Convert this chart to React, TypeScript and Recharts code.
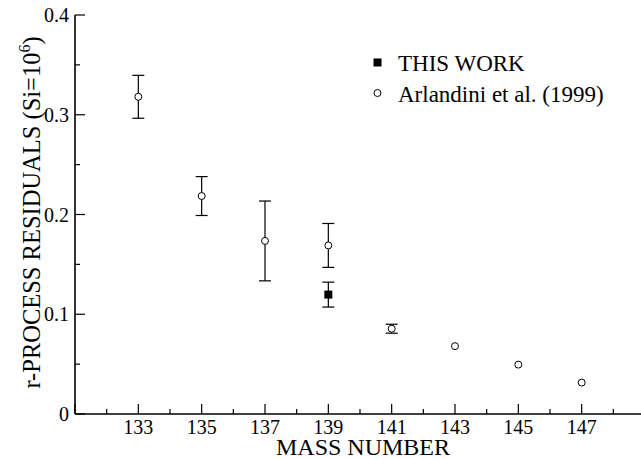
import React from 'react';
import { ScatterChart, Scatter, XAxis, YAxis, ErrorBar, Legend } from 'recharts';

// ---- data ----
const massNumbers = [133, 135, 137, 139, 141, 143, 145, 147];
const arlandiniValues = [0.318, 0.2185, 0.1735, 0.169, 0.0855, 0.068, 0.0495, 0.0315];
const arlandiniErrors = [0.0215, 0.0195, 0.04, 0.022, 0.0045, 0, 0, 0];

const thisWorkMass = [139];
const thisWorkValues = [0.1197];
const thisWorkErrors = [0.0125];

const xTicks = [131, 132, 133, 134, 135, 136, 137, 138, 139, 140, 141, 142, 143, 144, 145, 146, 147, 148, 149];
const xLabelled = [133, 135, 137, 139, 141, 143, 145, 147];
const yTicks = [0, 0.05, 0.1, 0.15, 0.2, 0.25, 0.3, 0.35, 0.4];
const yLabelled = [0, 0.1, 0.2, 0.3, 0.4];

const seriesThisWork = 'THIS WORK';
const seriesArlandini = 'Arlandini et al. (1999)';
const legendOrder = [seriesThisWork, seriesArlandini];
const xTitle = 'MASS NUMBER';

const arlandiniData = massNumbers.map((m, i) => ({ x: m, y: arlandiniValues[i], err: arlandiniErrors[i] }));
const thisWorkData = thisWorkMass.map((m, i) => ({ x: m, y: thisWorkValues[i], err: thisWorkErrors[i] }));

const FONT = 'Liberation Serif, DejaVu Serif, serif';
const fontStyle = { fontFamily: FONT };
const MAJOR = 10;
const MINOR = 5;
const TICK_W = 1.2;

const isMajorX = (v: number) => Math.abs(v % 2) === 1;
const isMajorY = (v: number) => Math.round(v * 100) % 10 === 0;
const fmtY = (v: number) => (v === 0 ? '0' : v.toFixed(1));

const BottomTick = (props: any) => {
  const { x, y, payload } = props;
  const v = payload.value;
  const major = isMajorX(v);
  return (
    <g>
      <line x1={x} y1={y} x2={x} y2={y - (major ? MAJOR : MINOR)} stroke="#000" strokeWidth={TICK_W} />
      {xLabelled.includes(v) && (
        <text x={x} y={y + 20} textAnchor="middle" style={fontStyle} fontSize={20} fill="#000">
          {v}
        </text>
      )}
    </g>
  );
};

const TopTick = (props: any) => {
  const { x, y, payload } = props;
  const major = isMajorX(payload.value);
  return <line x1={x} y1={y} x2={x} y2={y + (major ? MAJOR : MINOR)} stroke="#000" strokeWidth={TICK_W} />;
};

const LeftTick = (props: any) => {
  const { x, y, payload } = props;
  const v = payload.value;
  const major = isMajorY(v);
  return (
    <g>
      <line x1={x} y1={y} x2={x + (major ? MAJOR : MINOR)} y2={y} stroke="#000" strokeWidth={TICK_W} />
      {yLabelled.some((t) => Math.abs(t - v) < 1e-9) && (
        <text x={x - 6} y={y} dy="0.35em" textAnchor="end" style={fontStyle} fontSize={20} fill="#000">
          {fmtY(v)}
        </text>
      )}
    </g>
  );
};

const RightTick = (props: any) => {
  const { x, y, payload } = props;
  const major = isMajorY(payload.value);
  return <line x1={x} y1={y} x2={x - (major ? MAJOR : MINOR)} y2={y} stroke="#000" strokeWidth={TICK_W} />;
};

const OpenCircle = (props: any) => {
  const { cx, cy } = props;
  return <circle cx={cx} cy={cy} r={3.5} fill="#fff" stroke="#000" strokeWidth={1} />;
};

const FilledSquare = (props: any) => {
  const { cx, cy } = props;
  return <rect x={cx - 4} y={cy - 4} width={8} height={8} fill="#000" />;
};

const YTitle = (props: any) => {
  const vb = props.viewBox || { x: 0, y: 15, width: 75, height: 398 };
  const cy = vb.y + vb.height / 2 - 2;
  return (
    <text
      transform={`translate(40, ${cy}) rotate(-90)`}
      textAnchor="middle"
      style={fontStyle}
      fontSize={24.5}
      fill="#000"
    >
      <tspan>r-PROCESS RESIDUALS (Si=10</tspan>
      <tspan dy={-10} fontSize={16}>6</tspan>
      <tspan dy={10}>)</tspan>
    </text>
  );
};

const XTitle = (props: any) => {
  const vb = props.viewBox || { x: 75, y: 414, width: 570, height: 45 };
  return (
    <text x={363} y={vb.y + 41} textAnchor="middle" style={fontStyle} fontSize={24} fill="#000">
      {xTitle}
    </text>
  );
};

const LegendContent = (props: any) => {
  const payload: any[] = [...(props.payload || [])].sort(
    (a, b) => legendOrder.indexOf(String(a.value)) - legendOrder.indexOf(String(b.value))
  );
  return (
    <svg width={270} height={70} style={{ display: 'block' }}>
      {payload.map((item, i) => {
        const cy = 17.5 + i * 30.5;
        return (
          <g key={String(item.value)}>
            {item.value === seriesThisWork ? (
              <rect x={13.5} y={cy - 4} width={8} height={8} fill="#000" />
            ) : (
              <circle cx={17.5} cy={cy} r={3.5} fill="#fff" stroke="#000" strokeWidth={1} />
            )}
            <text x={38} y={cy + 8.5} style={fontStyle} fontSize={23} fill="#000">
              {item.value}
            </text>
          </g>
        );
      })}
    </svg>
  );
};

export default function App() {
  return (
    <div
      style={{
        position: 'absolute',
        left: 0,
        top: 0,
        width: 641,
        height: 459,
        overflow: 'hidden',
        background: '#fff',
        fontFamily: FONT,
      }}
    >
      <ScatterChart width={660} height={459} margin={{ top: 15, right: 15, bottom: 0, left: 0 }}>
        <XAxis
          xAxisId="b"
          dataKey="x"
          type="number"
          domain={[131, 149]}
          ticks={xTicks}
          interval={0}
          orientation="bottom"
          height={45}
          tickSize={0}
          tickMargin={0}
          tickLine={false}
          axisLine={{ stroke: '#000', strokeWidth: 1.6 }}
          tick={BottomTick}
          label={{ content: XTitle }}
          allowDataOverflow
        />
        <XAxis
          xAxisId="t"
          type="number"
          domain={[131, 149]}
          ticks={xTicks}
          interval={0}
          orientation="top"
          height={0}
          tickSize={0}
          tickMargin={0}
          tickLine={false}
          axisLine={{ stroke: '#000', strokeWidth: 1.6 }}
          tick={TopTick}
          allowDataOverflow
        />
        <YAxis
          yAxisId="l"
          dataKey="y"
          type="number"
          domain={[0, 0.4]}
          ticks={yTicks}
          interval={0}
          orientation="left"
          width={75}
          tickSize={0}
          tickMargin={0}
          tickLine={false}
          axisLine={{ stroke: '#000', strokeWidth: 1.6 }}
          tick={LeftTick}
          label={{ content: YTitle }}
          allowDataOverflow
        />
        <YAxis
          yAxisId="r"
          type="number"
          domain={[0, 0.4]}
          ticks={yTicks}
          interval={0}
          orientation="right"
          width={0}
          tickSize={0}
          tickMargin={0}
          tickLine={false}
          axisLine={{ stroke: '#000', strokeWidth: 1.6 }}
          tick={RightTick}
          allowDataOverflow
        />
        <Scatter
          name={seriesThisWork}
          data={thisWorkData}
          xAxisId="b"
          yAxisId="l"
          shape={FilledSquare}
          isAnimationActive={false}
        >
          <ErrorBar dataKey="err" direction="y" width={6} stroke="#000" strokeWidth={1.2} isAnimationActive={false} />
        </Scatter>
        <Scatter
          name={seriesArlandini}
          data={arlandiniData}
          xAxisId="b"
          yAxisId="l"
          shape={OpenCircle}
          isAnimationActive={false}
        >
          <ErrorBar dataKey="err" direction="y" width={6} stroke="#000" strokeWidth={1.2} isAnimationActive={false} />
        </Scatter>
        <Legend
          layout="horizontal"
          verticalAlign="middle"
          align="center"
          content={LegendContent}
          wrapperStyle={{ left: 360, top: 45, width: 270, height: 70 }}
        />
      </ScatterChart>
    </div>
  );
}
